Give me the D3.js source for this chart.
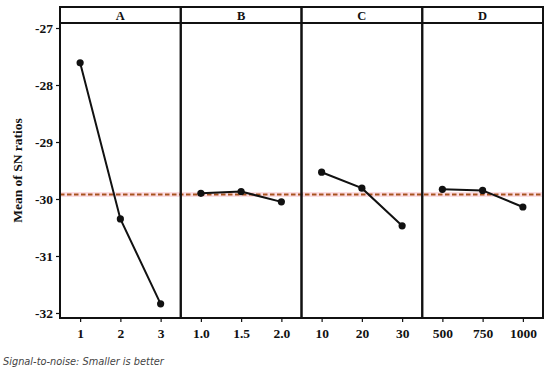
<!DOCTYPE html>
<html>
<head>
<meta charset="utf-8">
<script src="https://cdn.jsdelivr.net/npm/d3@7"></script>
<style>
  body { margin: 0; background: #fff; }
  svg { display: block; }
</style>
</head>
<body>
<div id="chart"></div>
<script>
const factors = ["A", "B", "C", "D"];
const levelsA = ["1", "2", "3"];
const levelsB = ["1.0", "1.5", "2.0"];
const levelsC = ["10", "20", "30"];
const levelsD = ["500", "750", "1000"];
const snA = [-27.61, -30.35, -31.84];
const snB = [-29.9, -29.87, -30.05];
const snC = [-29.53, -29.81, -30.47];
const snD = [-29.83, -29.85, -30.14];
const overallMean = -29.92;
const yTicks = [-27, -28, -29, -30, -31, -32];

const panels = [
  { name: "A", levels: levelsA, values: snA },
  { name: "B", levels: levelsB, values: snB },
  { name: "C", levels: levelsC, values: snC },
  { name: "D", levels: levelsD, values: snD },
];

const serif = "'Liberation Serif', 'Times New Roman', serif";
const width = 550, height = 372;
const margin = { top: 7, right: 7, bottom: 54, left: 60 };
const stripH = 16;
const plotTop = margin.top + stripH;
const plotBottom = height - margin.bottom;

const svg = d3.select("#chart").append("svg").attr("width", width).attr("height", height);

const fx = d3.scaleBand().domain(factors).range([margin.left, width - margin.right]).padding(0);
const y = d3.scaleLinear().domain([-32.088, -26.912]).range([plotBottom, plotTop]);

function styleTicks(ax) {
  ax.select(".domain").remove();
  ax.selectAll(".tick line").attr("stroke", "#111").attr("stroke-width", 1.2);
  ax.selectAll(".tick text")
    .style("font-family", serif).style("font-weight", "bold")
    .style("font-size", "13.5px").style("fill", "#111");
}

// mean reference line (behind)
const meanG = svg.append("g");
meanG.append("line")
  .attr("x1", margin.left).attr("x2", width - margin.right)
  .attr("y1", y(overallMean)).attr("y2", y(overallMean))
  .attr("stroke", "#fbdde3").attr("stroke-width", 5);
meanG.append("line")
  .attr("x1", margin.left).attr("x2", width - margin.right)
  .attr("y1", y(overallMean)).attr("y2", y(overallMean))
  .attr("stroke", "#a8521e").attr("stroke-width", 2).attr("stroke-dasharray", "4.5,2.5");

panels.forEach((p) => {
  const x0 = fx(p.name);
  const bw = fx.bandwidth();
  const x = d3.scalePoint().domain(p.levels).range([x0, x0 + bw]).padding(0.5);
  const g = svg.append("g");

  // x axis
  const ax = g.append("g").attr("transform", `translate(0,${plotBottom})`)
    .call(d3.axisBottom(x).tickSize(4).tickPadding(5));
  styleTicks(ax);
  ax.selectAll(".tick text").attr("dy", "0.85em");

  const pts = p.levels.map((l, i) => ({ level: l, value: p.values[i] }));
  g.append("path").datum(pts)
    .attr("fill", "none").attr("stroke", "#111").attr("stroke-width", 2)
    .attr("d", d3.line().x((d) => x(d.level)).y((d) => y(d.value)));
  g.selectAll("circle").data(pts).join("circle")
    .attr("cx", (d) => x(d.level)).attr("cy", (d) => y(d.value))
    .attr("r", 3.6).attr("fill", "#111");

  // panel frame and strip
  g.append("rect").attr("x", x0).attr("y", margin.top).attr("width", bw).attr("height", plotBottom - margin.top)
    .attr("fill", "none").attr("stroke", "#111").attr("stroke-width", 2);
  g.append("line").attr("x1", x0).attr("x2", x0 + bw).attr("y1", plotTop).attr("y2", plotTop)
    .attr("stroke", "#111").attr("stroke-width", 2);
  g.append("text").attr("x", x0 + bw / 2).attr("y", margin.top + stripH - 3.5)
    .attr("text-anchor", "middle")
    .style("font-family", serif).style("font-weight", "bold")
    .style("font-size", "12.5px").attr("fill", "#111").text(p.name);
});

// y axis
const ay = svg.append("g").attr("transform", `translate(${margin.left},0)`)
  .call(d3.axisLeft(y).tickValues(yTicks).tickFormat((d) => String(d)).tickSize(4).tickPadding(3));
styleTicks(ay);

svg.append("text")
  .attr("transform", `translate(22,${(plotTop + plotBottom) / 2}) rotate(-90)`)
  .attr("text-anchor", "middle")
  .style("font-family", serif).style("font-weight", "bold")
  .style("font-size", "13.5px").attr("fill", "#111").text("Mean of SN ratios");

svg.append("text")
  .attr("x", 3).attr("y", 365)
  .style("font-family", "'DejaVu Sans', sans-serif").style("font-style", "italic")
  .style("font-size", "9.8px").attr("fill", "#444").text("Signal-to-noise: Smaller is better");
</script>
</body>
</html>
